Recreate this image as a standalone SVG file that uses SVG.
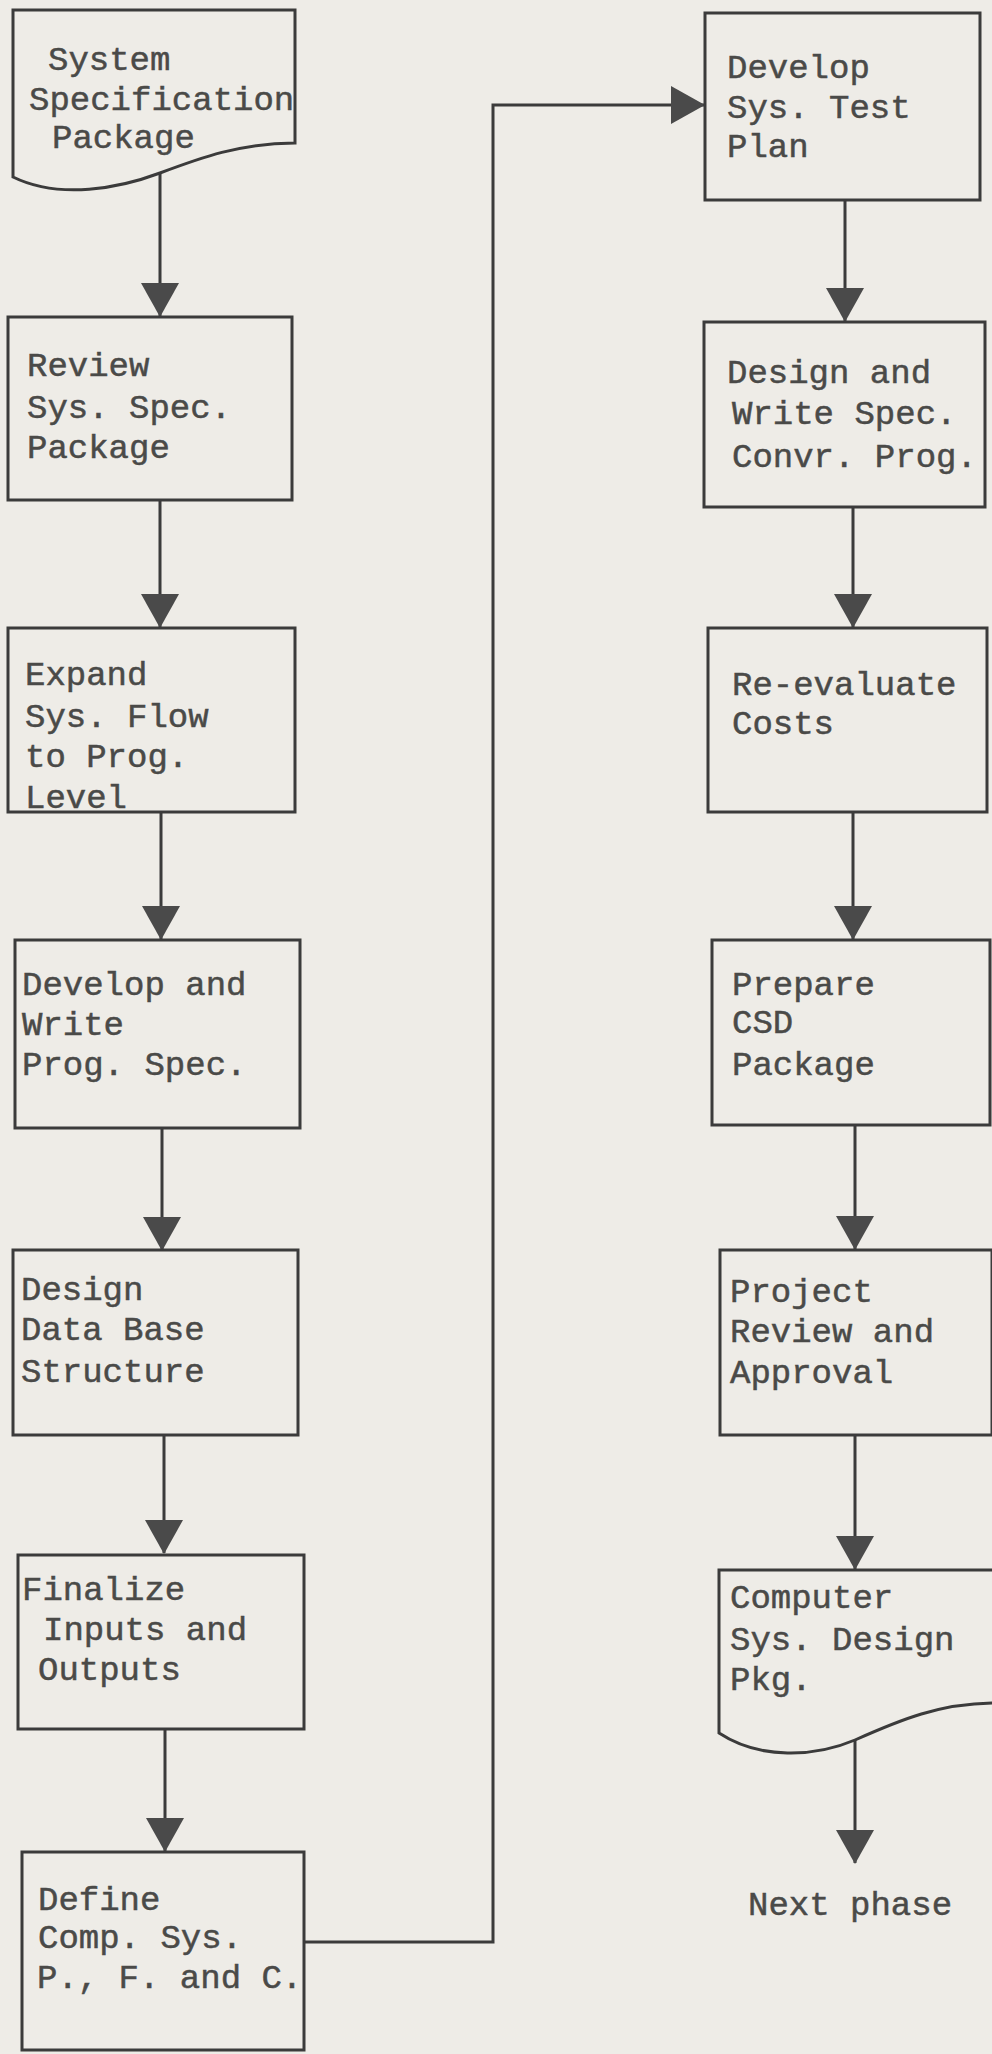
<svg xmlns="http://www.w3.org/2000/svg" width="992" height="2054" viewBox="0 0 992 2054">
  <style>
    .box { fill: none; stroke: #3b3b3b; stroke-width: 3; stroke-linejoin: miter; }
    .doc { fill: none; stroke: #3b3b3b; stroke-width: 3; }
    .line { fill: none; stroke: #3b3b3b; stroke-width: 3; }
    .lbl { font-family: 'Courier New', 'Liberation Mono', monospace; font-size: 34px; fill: #4a4a48; stroke: #4a4a48; stroke-width: 0.5; }
  </style>
  <defs>
    <marker id="head" viewBox="0 0 34 38" markerUnits="userSpaceOnUse" markerWidth="34" markerHeight="38" refX="33" refY="19" orient="auto">
      <path d="M0,0 L34,19 L0,38 Z" fill="#4a4a4a"/>
    </marker>
  </defs>
  <rect x="0" y="0" width="992" height="2054" fill="#eeece7"/>

  <!-- connectors -->
  <g id="connectors">
    <path class="line" d="M160,173 L160,316" marker-end="url(#head)"/>
    <path class="line" d="M160,500 L160,627" marker-end="url(#head)"/>
    <path class="line" d="M161,812 L161,939" marker-end="url(#head)"/>
    <path class="line" d="M162,1128 L162,1250" marker-end="url(#head)"/>
    <path class="line" d="M164,1435 L164,1553" marker-end="url(#head)"/>
    <path class="line" d="M165,1729 L165,1851" marker-end="url(#head)"/>
    <path class="line" d="M304,1942 L493,1942 L493,105 L704,105" marker-end="url(#head)"/>
    <path class="line" d="M845,200 L845,321" marker-end="url(#head)"/>
    <path class="line" d="M853,507 L853,627" marker-end="url(#head)"/>
    <path class="line" d="M853,812 L853,939" marker-end="url(#head)"/>
    <path class="line" d="M855,1125 L855,1249" marker-end="url(#head)"/>
    <path class="line" d="M855,1435 L855,1569" marker-end="url(#head)"/>
    <path class="line" d="M855,1740 L855,1863" marker-end="url(#head)"/>
  </g>

  <!-- left column -->
  <g id="sys-spec-package">
    <path class="doc" d="M13,10 L295,10 L295,143 C240,143 200,158 160,173 C120,188 60,200 13,177 Z"/>
    <text class="lbl" x="48" y="70">System</text>
    <text class="lbl" x="29" y="110">Specification</text>
    <text class="lbl" x="52" y="148">Package</text>
  </g>
  <g id="review-spec">
    <rect class="box" x="8" y="317" width="284" height="183"/>
    <text class="lbl" x="27" y="376">Review</text>
    <text class="lbl" x="27" y="418">Sys. Spec.</text>
    <text class="lbl" x="27" y="458">Package</text>
  </g>
  <g id="expand-flow">
    <rect class="box" x="8" y="628" width="287" height="184"/>
    <text class="lbl" x="25" y="685">Expand</text>
    <text class="lbl" x="25" y="727">Sys. Flow</text>
    <text class="lbl" x="25" y="767">to Prog.</text>
    <text class="lbl" x="25" y="808">Level</text>
  </g>
  <g id="prog-spec">
    <rect class="box" x="15" y="940" width="285" height="188"/>
    <text class="lbl" x="22" y="995">Develop and</text>
    <text class="lbl" x="22" y="1035">Write</text>
    <text class="lbl" x="22" y="1075">Prog. Spec.</text>
  </g>
  <g id="data-base">
    <rect class="box" x="13" y="1250" width="285" height="185"/>
    <text class="lbl" x="21" y="1300">Design</text>
    <text class="lbl" x="21" y="1340">Data Base</text>
    <text class="lbl" x="21" y="1382">Structure</text>
  </g>
  <g id="inputs-outputs">
    <rect class="box" x="18" y="1555" width="286" height="174"/>
    <text class="lbl" x="22" y="1600">Finalize</text>
    <text class="lbl" x="43" y="1640">Inputs and</text>
    <text class="lbl" x="38" y="1680">Outputs</text>
  </g>
  <g id="define-comp-sys">
    <rect class="box" x="22" y="1852" width="282" height="198"/>
    <text class="lbl" x="38" y="1910">Define</text>
    <text class="lbl" x="38" y="1948">Comp. Sys.</text>
    <text class="lbl" x="37" y="1988">P., F. and C.</text>
  </g>

  <!-- right column -->
  <g id="test-plan">
    <rect class="box" x="705" y="13" width="275" height="187"/>
    <text class="lbl" x="727" y="78">Develop</text>
    <text class="lbl" x="727" y="118">Sys. Test</text>
    <text class="lbl" x="727" y="157">Plan</text>
  </g>
  <g id="convr-prog">
    <rect class="box" x="704" y="322" width="281" height="185"/>
    <text class="lbl" x="727" y="383">Design and</text>
    <text class="lbl" x="732" y="424">Write Spec.</text>
    <text class="lbl" x="732" y="467">Convr. Prog.</text>
  </g>
  <g id="costs">
    <rect class="box" x="708" y="628" width="279" height="184"/>
    <text class="lbl" x="732" y="695">Re-evaluate</text>
    <text class="lbl" x="732" y="734">Costs</text>
  </g>
  <g id="csd-package">
    <rect class="box" x="712" y="940" width="278" height="185"/>
    <text class="lbl" x="732" y="995">Prepare</text>
    <text class="lbl" x="732" y="1033">CSD</text>
    <text class="lbl" x="732" y="1075">Package</text>
  </g>
  <g id="review-approval">
    <rect class="box" x="720" y="1250" width="272" height="185"/>
    <text class="lbl" x="730" y="1302">Project</text>
    <text class="lbl" x="730" y="1342">Review and</text>
    <text class="lbl" x="730" y="1383">Approval</text>
  </g>
  <g id="design-pkg">
    <path class="doc" d="M719,1570 L996,1570 L996,1703 C940,1703 900,1720 855,1740 C815,1757 760,1760 719,1733 Z"/>
    <text class="lbl" x="730" y="1608">Computer</text>
    <text class="lbl" x="730" y="1650">Sys. Design</text>
    <text class="lbl" x="730" y="1690">Pkg.</text>
  </g>
  <g id="next-phase">
    <text class="lbl" x="748" y="1915">Next phase</text>
  </g>
</svg>
